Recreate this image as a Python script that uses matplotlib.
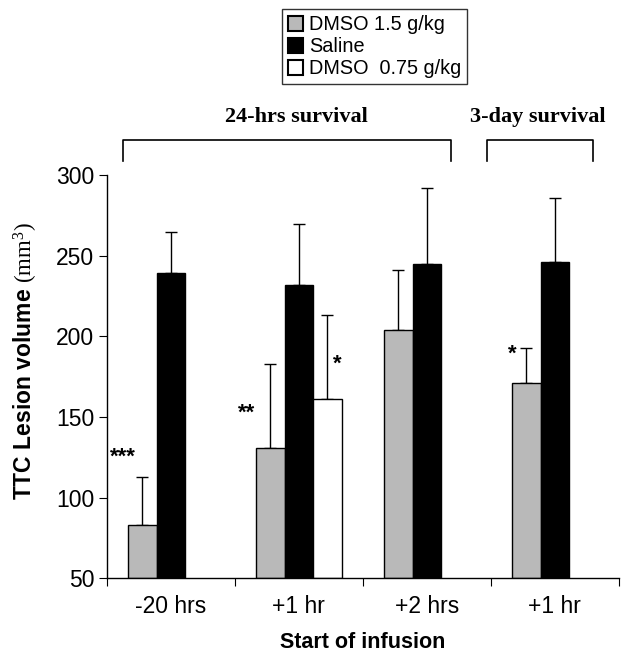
import matplotlib
matplotlib.use("Agg")
import matplotlib.pyplot as plt
import numpy as np
from matplotlib.patches import Patch

plt.rcParams['font.family'] = ['Liberation Sans', 'DejaVu Sans']
plt.rcParams['mathtext.fontset'] = 'custom'
plt.rcParams['mathtext.rm'] = 'Liberation Serif'
plt.rcParams['mathtext.it'] = 'Liberation Serif:italic'

categories = ['-20 hrs', '+1 hr', '+2 hrs', '+1 hr']
series_names = ['DMSO 1.5 g/kg', 'Saline', 'DMSO  0.75 g/kg']
dmso15 = [83, 131, 204, 171]
dmso15_err = [30, 52, 37, 22]
saline = [239, 232, 245, 246]
saline_err = [26, 38, 47, 40]
dmso075 = [np.nan, 161, np.nan, np.nan]
dmso075_err = [0, 52, 0, 0]
colors = ['#b9b9b9', '#000000', '#ffffff']

star_labels = ['***', '**', '*', '*']
star_x = [-0.375, 0.59, 1.30, 2.67]
star_y = [125, 152, 183, 189]

yticks = [50, 100, 150, 200, 250, 300]

fig = plt.figure(figsize=(6.29, 6.66), dpi=100)
ax = fig.add_axes([0.170, 0.132, 0.814, 0.605])

x = np.arange(len(categories))
w = 0.223
offsets = [-w, 0, w]
series = [(dmso15, dmso15_err), (saline, saline_err), (dmso075, dmso075_err)]
for (vals, errs), off, c in zip(series, offsets, colors):
    vals = np.array(vals, dtype=float)
    errs = np.array(errs, dtype=float)
    mask = ~np.isnan(vals)
    ax.bar(x[mask] + off, vals[mask] - 50, bottom=50, width=w, color=c,
           edgecolor='black', linewidth=1, zorder=2)
    ax.errorbar(x[mask] + off, vals[mask], yerr=[np.zeros(mask.sum()), errs[mask]],
                fmt='none', ecolor='black', elinewidth=1, capsize=4.3, capthick=1, zorder=1)

for lab, sx, sy in zip(star_labels, star_x, star_y):
    ax.text(sx, sy, lab, ha='center', va='center', fontsize=16, fontweight='bold')

ax.set_xlim(-0.5, 3.5)
ax.set_ylim(50, 300)
ax.set_yticks(yticks)
ax.set_yticklabels([str(v) for v in yticks], fontsize=16.5)
ax.set_xticks(np.arange(-0.5, 4.0, 1.0))
ax.set_xticklabels([])
ax.set_xticks(x, minor=True)
ax.set_xticklabels(categories, minor=True, fontsize=16.5)
ax.tick_params(axis='x', which='minor', length=0, pad=12)
ax.tick_params(axis='x', which='major', length=6, direction='out')
ax.tick_params(axis='y', length=6, direction='out', pad=3)
for s in ['top', 'right']:
    ax.spines[s].set_visible(False)
for s in ['left', 'bottom']:
    ax.spines[s].set_linewidth(1)

ax.set_xlabel('Start of infusion', fontsize=15.5, fontweight='bold', labelpad=10)
fig.text(0.041, 0.458, r'TTC Lesion volume $(\mathrm{mm}^3)$', rotation=90,
         ha='center', va='center', fontsize=16.5, fontweight='bold')

# brackets
for (x0, x1), lab, tx in [((-0.377, 2.19), '24-hrs survival', 0.982),
                          ((2.466, 3.30), '3-day survival', 2.867)]:
    ax.plot([x0, x0, x1, x1], [309, 322, 322, 309], color='black', lw=1.2, clip_on=False)
    ax.text(tx, 336, lab, ha='center', va='center', fontsize=16, fontweight='bold',
            family='Liberation Serif')

handles = [Patch(facecolor=c, edgecolor='black', linewidth=1.5) for c in colors]
leg = fig.legend(handles, series_names, loc='upper left', bbox_to_anchor=(0.449, 0.986),
                 fontsize=14.3, frameon=True, fancybox=False, handlelength=0.75,
                 handleheight=0.75, handletextpad=0.3, labelspacing=0.15,
                 borderpad=0.3, borderaxespad=0)
leg.get_frame().set_edgecolor('black')
leg.get_frame().set_linewidth(1)

fig.savefig('out.png', dpi=100)
